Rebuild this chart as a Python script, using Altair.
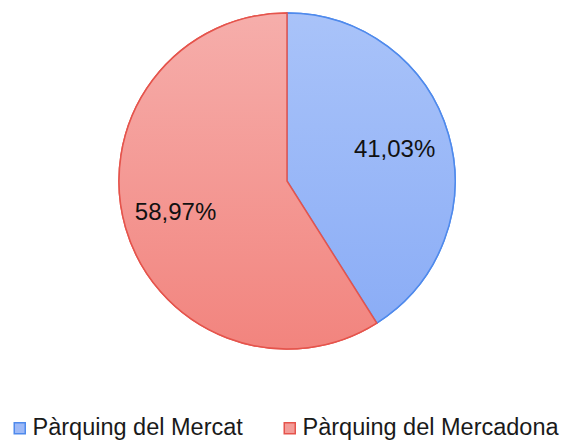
import altair as alt
import pandas as pd

categories = ["Pàrquing del Mercat", "Pàrquing del Mercadona"]
values = [41.03, 58.97]
labels = ["41,03%", "58,97%"]
order = [0, 1]

light_fill = ["#9db9f7", "#f39c98"]
stroke_cols = ["#4f8aec", "#e5544c"]

df = pd.DataFrame({"cat": categories, "val": values, "label": labels, "ord": order})

grad_blue = alt.LinearGradient(gradient="linear", x1=0, y1=0, x2=0, y2=1,
                               stops=[alt.GradientStop(color="#a9c3f9", offset=0),
                                      alt.GradientStop(color="#8badf6", offset=1)])
grad_red = alt.LinearGradient(gradient="linear", x1=0, y1=0, x2=0, y2=1,
                              stops=[alt.GradientStop(color="#f6aeab", offset=0),
                                     alt.GradientStop(color="#f2847e", offset=1)])

cx, cy, R = 279, 173, 168

base = alt.Chart(df).encode(
    theta=alt.Theta("val:Q", stack=True),
    order=alt.Order("ord:Q"),
    x=alt.value(cx), y=alt.value(cy),
)

leg = dict(title=None, orient="none", direction="horizontal",
           legendX=0, legendY=408,
           symbolType="square", symbolSize=121,
           symbolStrokeWidth=1.5,
           labelFont="Liberation Sans", labelFontSize=23.5,
           labelColor="#1a1a1a", labelOffset=1,
           columnPadding=35, labelLimit=400)

legend_layer = base.mark_arc(outerRadius=R, strokeWidth=1.5).encode(
    fill=alt.Fill("cat:N", sort=categories,
                  scale=alt.Scale(domain=categories, range=light_fill),
                  legend=alt.Legend(**leg)),
    stroke=alt.Stroke("cat:N", sort=categories,
                      scale=alt.Scale(domain=categories, range=stroke_cols),
                      legend=alt.Legend(**leg)),
)

grad_layer = base.mark_arc(outerRadius=R, strokeWidth=1.5).encode(
    fill=alt.condition(alt.datum.ord == 0, alt.value(grad_blue), alt.value(grad_red)),
    stroke=alt.condition(alt.datum.ord == 0, alt.value(stroke_cols[0]), alt.value(stroke_cols[1])),
)

text_blue = base.mark_text(radius=112, font="Liberation Sans", fontSize=24,
                           color="#111111").encode(
    text="label:N",
    opacity=alt.condition(alt.datum.ord == 0, alt.value(1), alt.value(0)))
text_red = base.mark_text(radius=116, font="Liberation Sans", fontSize=24,
                          color="#111111").encode(
    text="label:N",
    opacity=alt.condition(alt.datum.ord == 1, alt.value(1), alt.value(0)))

chart = alt.layer(legend_layer, grad_layer, text_blue, text_red).properties(
    width=552, height=433, padding=0, autosize="none"
).configure_view(stroke=None)

chart.save("out.html", embed_options={"renderer": "svg", "actions": False})
